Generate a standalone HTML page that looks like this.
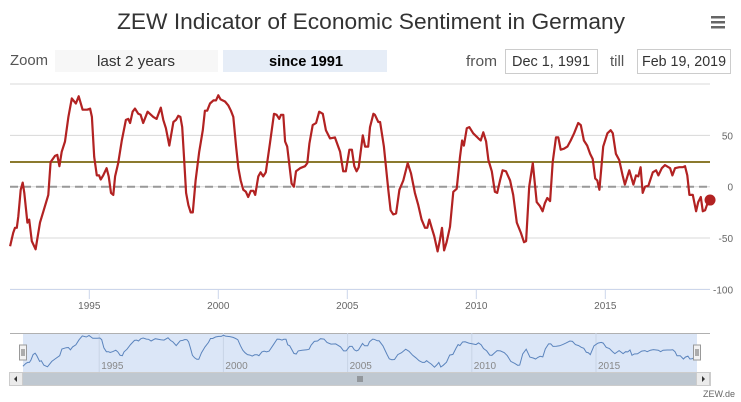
<!DOCTYPE html>
<html><head><meta charset="utf-8"><style>
html,body{margin:0;padding:0;background:#fff;}
svg{display:block;font-family:"Liberation Sans",sans-serif;}
</style></head><body>
<svg id="c" width="741" height="402" viewBox="0 0 741 402">
<text x="371" y="29" text-anchor="middle" font-size="22" fill="#333" textLength="508" lengthAdjust="spacingAndGlyphs">ZEW Indicator of Economic Sentiment in Germany</text>
<g fill="#666"><rect x="711" y="16" width="14" height="2.5"/><rect x="711" y="21" width="14" height="2.5"/><rect x="711" y="26" width="14" height="2.5"/></g>
<text x="10" y="65" font-size="15" fill="#555" textLength="38" lengthAdjust="spacingAndGlyphs">Zoom</text>
<g><rect x="55" y="50" width="163" height="22" fill="#f7f7f7"/><text x="136" y="66" text-anchor="middle" font-size="15" fill="#333" textLength="78" lengthAdjust="spacingAndGlyphs">last 2 years</text></g>
<g><rect x="223" y="50" width="164" height="22" fill="#e6edf7"/><text x="306" y="66" text-anchor="middle" font-size="15" font-weight="bold" fill="#000" textLength="74" lengthAdjust="spacingAndGlyphs">since 1991</text></g>
<text x="466" y="66" font-size="15" fill="#555" textLength="31" lengthAdjust="spacingAndGlyphs">from</text>
<g><rect x="505.5" y="49.5" width="92" height="24" fill="#fff" stroke="#ccc"/><text x="551" y="66" text-anchor="middle" font-size="15" fill="#333" textLength="78" lengthAdjust="spacingAndGlyphs">Dec 1, 1991</text></g>
<text x="610" y="66" font-size="15" fill="#555">till</text>
<g><rect x="637.5" y="49.5" width="93" height="24" fill="#fff" stroke="#ccc"/><text x="684" y="66" text-anchor="middle" font-size="15" fill="#333" textLength="84" lengthAdjust="spacingAndGlyphs">Feb 19, 2019</text></g>
<g id="plot"></g>
<g id="nav"></g>
<text x="735" y="397" text-anchor="end" font-size="9" fill="#666">ZEW.de</text>
</svg>
<script>
const dates=[1991.93,1992.05,1992.12,1992.19,1992.25,1992.34,1992.42,1992.48,1992.60,1992.67,1992.77,1992.92,1993.09,1993.22,1993.41,1993.50,1993.67,1993.76,1993.84,1993.93,1994.06,1994.19,1994.32,1994.48,1994.59,1994.74,1994.92,1995.03,1995.10,1995.19,1995.29,1995.38,1995.44,1995.54,1995.67,1995.75,1995.84,1995.93,1996.00,1996.12,1996.26,1996.42,1996.51,1996.58,1996.68,1996.77,1996.90,1996.99,1997.09,1997.26,1997.48,1997.61,1997.77,1997.87,1997.97,1998.10,1998.26,1998.36,1998.45,1998.53,1998.60,1998.67,1998.75,1998.84,1998.93,1999.01,1999.12,1999.26,1999.40,1999.48,1999.57,1999.68,1999.81,1999.91,2000.00,2000.09,2000.26,2000.39,2000.49,2000.58,2000.69,2000.78,2000.87,2000.97,2001.07,2001.16,2001.26,2001.36,2001.43,2001.55,2001.64,2001.74,2001.84,2002.00,2002.16,2002.26,2002.36,2002.43,2002.52,2002.59,2002.67,2002.84,2002.93,2003.01,2003.17,2003.36,2003.45,2003.53,2003.66,2003.79,2003.91,2004.05,2004.17,2004.33,2004.52,2004.72,2004.84,2004.94,2005.08,2005.18,2005.27,2005.36,2005.44,2005.60,2005.69,2005.81,2005.88,2006.01,2006.07,2006.20,2006.27,2006.42,2006.59,2006.68,2006.78,2006.89,2007.02,2007.17,2007.34,2007.47,2007.62,2007.75,2007.88,2008.01,2008.10,2008.18,2008.27,2008.37,2008.50,2008.59,2008.67,2008.75,2008.85,2008.98,2009.11,2009.24,2009.37,2009.45,2009.52,2009.63,2009.73,2009.88,2010.08,2010.17,2010.27,2010.38,2010.47,2010.60,2010.72,2010.81,2010.92,2011.02,2011.15,2011.31,2011.43,2011.57,2011.73,2011.85,2011.93,2012.05,2012.19,2012.34,2012.47,2012.57,2012.66,2012.75,2012.86,2012.96,2013.09,2013.18,2013.27,2013.40,2013.53,2013.66,2013.79,2013.95,2014.05,2014.17,2014.30,2014.41,2014.51,2014.61,2014.69,2014.77,2014.92,2015.08,2015.21,2015.29,2015.41,2015.54,2015.67,2015.76,2015.93,2016.09,2016.19,2016.28,2016.37,2016.45,2016.54,2016.67,2016.84,2016.97,2017.06,2017.19,2017.31,2017.51,2017.60,2017.70,2017.87,2018.00,2018.09,2018.18,2018.26,2018.39,2018.52,2018.60,2018.70,2018.78,2018.87,2018.95,2019.06];
const values=[-58,-45,-40,-40,-29,-3,4,-6,-35,-32,-53,-61,-35,-24,-8,24,30,31,20,34,44,68,86,81,88,75,75,76,68,29,11,11,7,11,18,10,-6,-8,10,23,45,65,66,62,73,76,71,70,62,73,68,66,77,65,57,40,63,65,69,68,58,29,-6,-18,-25,-25,6,34,55,74,74,81,84,84,89,85,83,79,74,68,39,18,6,-3,-5,-10,-4,-4,-8,10,14,10,14,42,71,70,66,70,70,44,39,3,0,15,18,20,23,42,60,62,73,71,55,47,48,34,15,15,36,36,20,15,19,50,39,39,58,71,70,63,63,39,-3,-23,-27,-26,-3,6,23,13,-6,-18,-32,-40,-40,-32,-40,-48,-63,-52,-40,-62,-54,-39,-5,-2,29,45,40,57,58,52,47,45,53,44,26,15,-5,-6,6,16,15,6,-8,-35,-45,-54,-53,0,23,-15,-19,-24,-16,-11,-14,24,48,48,36,37,39,45,52,62,60,45,40,32,27,8,6,-3,39,52,55,52,32,26,11,2,16,2,11,10,19,-6,0,1,14,16,11,18,21,18,11,18,19,19,20,11,-8,-8,-24,-15,-10,-24,-23,-17,-13];
const yTicks=[100,50,0,-50,-100];
const yLabels=['','50','0','-50','-100'];
const xTicks=[1995,2000,2005,2010,2015];
const avgLevel=24;
const NS='http://www.w3.org/2000/svg';
function mk(p,t,a){const e=document.createElementNS(NS,t);for(const k in a)e.setAttribute(k,a[k]);p.appendChild(e);return e;}
const xs=d=>89.3+(d-1995)*25.8;
const ys=v=>186.7-v*1.027;
const plot=document.getElementById('plot');
yTicks.forEach((t,i)=>{
  const l=mk(plot,'line',{x1:10,x2:710,y1:ys(t),y2:ys(t),stroke:'#d8d8d8','stroke-width':1});
  
  
  const tx=mk(plot,'text',{x:733,y:ys(t)+4,'text-anchor':'end','font-size':10,fill:'#666'});
  tx.textContent=yLabels[i];
  
  
});
const ax=mk(plot,'line',{x1:10,x2:710,y1:289.5,y2:289.5,stroke:'#ccd6eb'});


xTicks.forEach(t=>{
  const l=mk(plot,'line',{x1:xs(t),x2:xs(t),y1:289,y2:299,stroke:'#ccd6eb'});
  
  
  const tx=mk(plot,'text',{x:xs(t),y:309,'text-anchor':'middle','font-size':10,fill:'#666'});
  tx.textContent=t;
  
  
});
const zl=mk(plot,'line',{x1:10,x2:710,y1:ys(0),y2:ys(0),stroke:'#999','stroke-width':2,'stroke-dasharray':'8,5'});


const al=mk(plot,'line',{x1:10,x2:710,y1:ys(avgLevel),y2:ys(avgLevel),stroke:'#8b7a2e','stroke-width':2});


const pts=dates.map((d,i)=>xs(d).toFixed(1)+','+ys(values[i]).toFixed(1)).join(' ');
const ln=mk(plot,'polyline',{points:pts,fill:'none',stroke:'#b22222','stroke-width':2.2,'stroke-linejoin':'round'});


const li=dates.length-1;
const mkr=mk(plot,'circle',{cx:xs(dates[li]),cy:ys(values[li]),r:5.5,fill:'#b22222'});


// navigator
const nav=document.getElementById('nav');
const nx=d=>99.2+(d-1995)*24.84;
const ny=v=>354-v*0.21;
const bg=mk(nav,'rect',{x:23,y:333,width:674,height:39,fill:'#dbe6f7'});


mk(nav,'line',{x1:10,x2:710,y1:333.5,y2:333.5,stroke:'#b0b0b0'});
xTicks.forEach(t=>{
  const l=mk(nav,'line',{x1:nx(t),x2:nx(t),y1:333,y2:372,stroke:'#c8d4e6'});
  
  
  const tx=mk(nav,'text',{x:nx(t)+2,y:369,'font-size':10,fill:'#888'});
  tx.textContent=t;
  
  
});
const np=dates.map((d,i)=>nx(d).toFixed(1)+','+ny(values[i]).toFixed(1)).join(' ');
const nl=mk(nav,'polyline',{points:np,fill:'none',stroke:'#5b84bd','stroke-width':1});


[23,697].forEach(x=>{
  const h=mk(nav,'rect',{x:x-3.5,y:345,width:7,height:15,fill:'#f2f2f2',stroke:'#999'});
  
  
  mk(nav,'line',{x1:x-1,x2:x-1,y1:349,y2:356,stroke:'#666'});
  mk(nav,'line',{x1:x+1,x2:x+1,y1:349,y2:356,stroke:'#666'});
});
const sb=mk(nav,'rect',{x:9.5,y:372.5,width:701,height:13,fill:'#f2f2f2',stroke:'#ccc'});


const th=mk(nav,'rect',{x:23,y:373,width:674,height:12,fill:'#bfc8d1'});


[[16,'M14,379 L17,376 L17,382 Z','scroll-left-button'],[703,'M705,379 L702,376 L702,382 Z','scroll-right-button']].forEach(a=>{
  const b=mk(nav,'rect',{x:a[0]-6.5,y:372.5,width:13,height:13,fill:'#ebebeb',stroke:'#ccc'});
  
  
  mk(nav,'path',{d:a[1],fill:'#333'});
});
[358,360,362].forEach(x=>mk(nav,'line',{x1:x,x2:x,y1:376,y2:382,stroke:'#666'}));
</script>
</body></html>
